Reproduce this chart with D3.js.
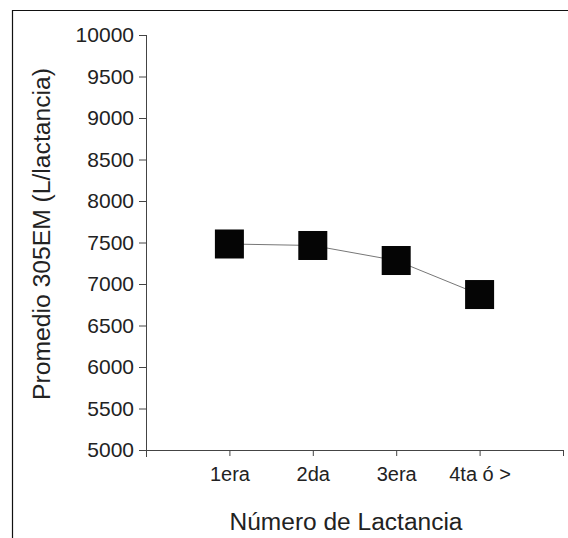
<!DOCTYPE html>
<html><head><meta charset="utf-8">
<script src="https://cdn.jsdelivr.net/npm/d3@7"></script>
<style>body{margin:0;background:#fff;} text{font-family:"Liberation Sans",Arial,sans-serif;fill:#222;}</style>
</head><body>
<svg id="c" width="568" height="538"></svg>
<script>
const categories = ["1era", "2da", "3era", "4ta ó >"];
const values = [7482, 7464, 7283, 6873];
const yTicks = [5000, 5500, 6000, 6500, 7000, 7500, 8000, 8500, 9000, 9500, 10000];
const yTitle = "Promedio 305EM (L/lactancia)";
const xTitle = "Número de Lactancia";

const svg = d3.select("#c");
// frame
svg.append("path").attr("d", "M12.5,538 V10.5 H568").attr("fill", "none").attr("stroke", "#111").attr("stroke-width", 1.2);

const x = d3.scaleLinear().domain([0, 5]).range([146, 563]);
const y = d3.scaleLinear().domain([5000, 10000]).range([450, 35]);

// y axis
const ya = svg.append("g").attr("transform", "translate(146,0)")
  .call(d3.axisLeft(y).tickValues(yTicks).tickSize(7).tickPadding(5).tickSizeOuter(0).tickFormat(d3.format("d")));
ya.select(".domain").attr("d", `M0.5,${y(10000)}V${y(5000) + 7}`);
ya.selectAll("text").style("font-size", "21px").attr("fill", "#222");
ya.selectAll("line,path").attr("stroke", "#444");

// x axis
const xa = svg.append("g").attr("transform", "translate(0,450)")
  .call(d3.axisBottom(x).tickValues([1, 2, 3, 4, 5]).tickSize(6).tickPadding(11).tickSizeOuter(0)
    .tickFormat(d => categories[d - 1] || ""));
xa.selectAll("text").style("font-size", "20px").attr("fill", "#222");
xa.selectAll("line,path").attr("stroke", "#444");

// line
const pts = values.map((v, i) => [x(i + 1), y(v)]);
svg.append("path").attr("d", d3.line()(pts)).attr("fill", "none").attr("stroke", "#777").attr("stroke-width", 1);

// markers
const s = 29;
svg.selectAll("rect.m").data(values).join("rect").attr("class", "m")
  .attr("x", (d, i) => x(i + 1) - s / 2).attr("y", d => y(d) - s / 2)
  .attr("width", s).attr("height", s).attr("fill", "#050505");

// titles
svg.append("text").attr("transform", "translate(50,234) rotate(-90)").attr("text-anchor", "middle")
  .style("font-size", "23px").attr("textLength", 332).attr("lengthAdjust", "spacingAndGlyphs").text(yTitle);
svg.append("text").attr("x", 346).attr("y", 530).attr("text-anchor", "middle")
  .style("font-size", "23px").attr("textLength", 233).attr("lengthAdjust", "spacingAndGlyphs").text(xTitle);
</script>
</body></html>
